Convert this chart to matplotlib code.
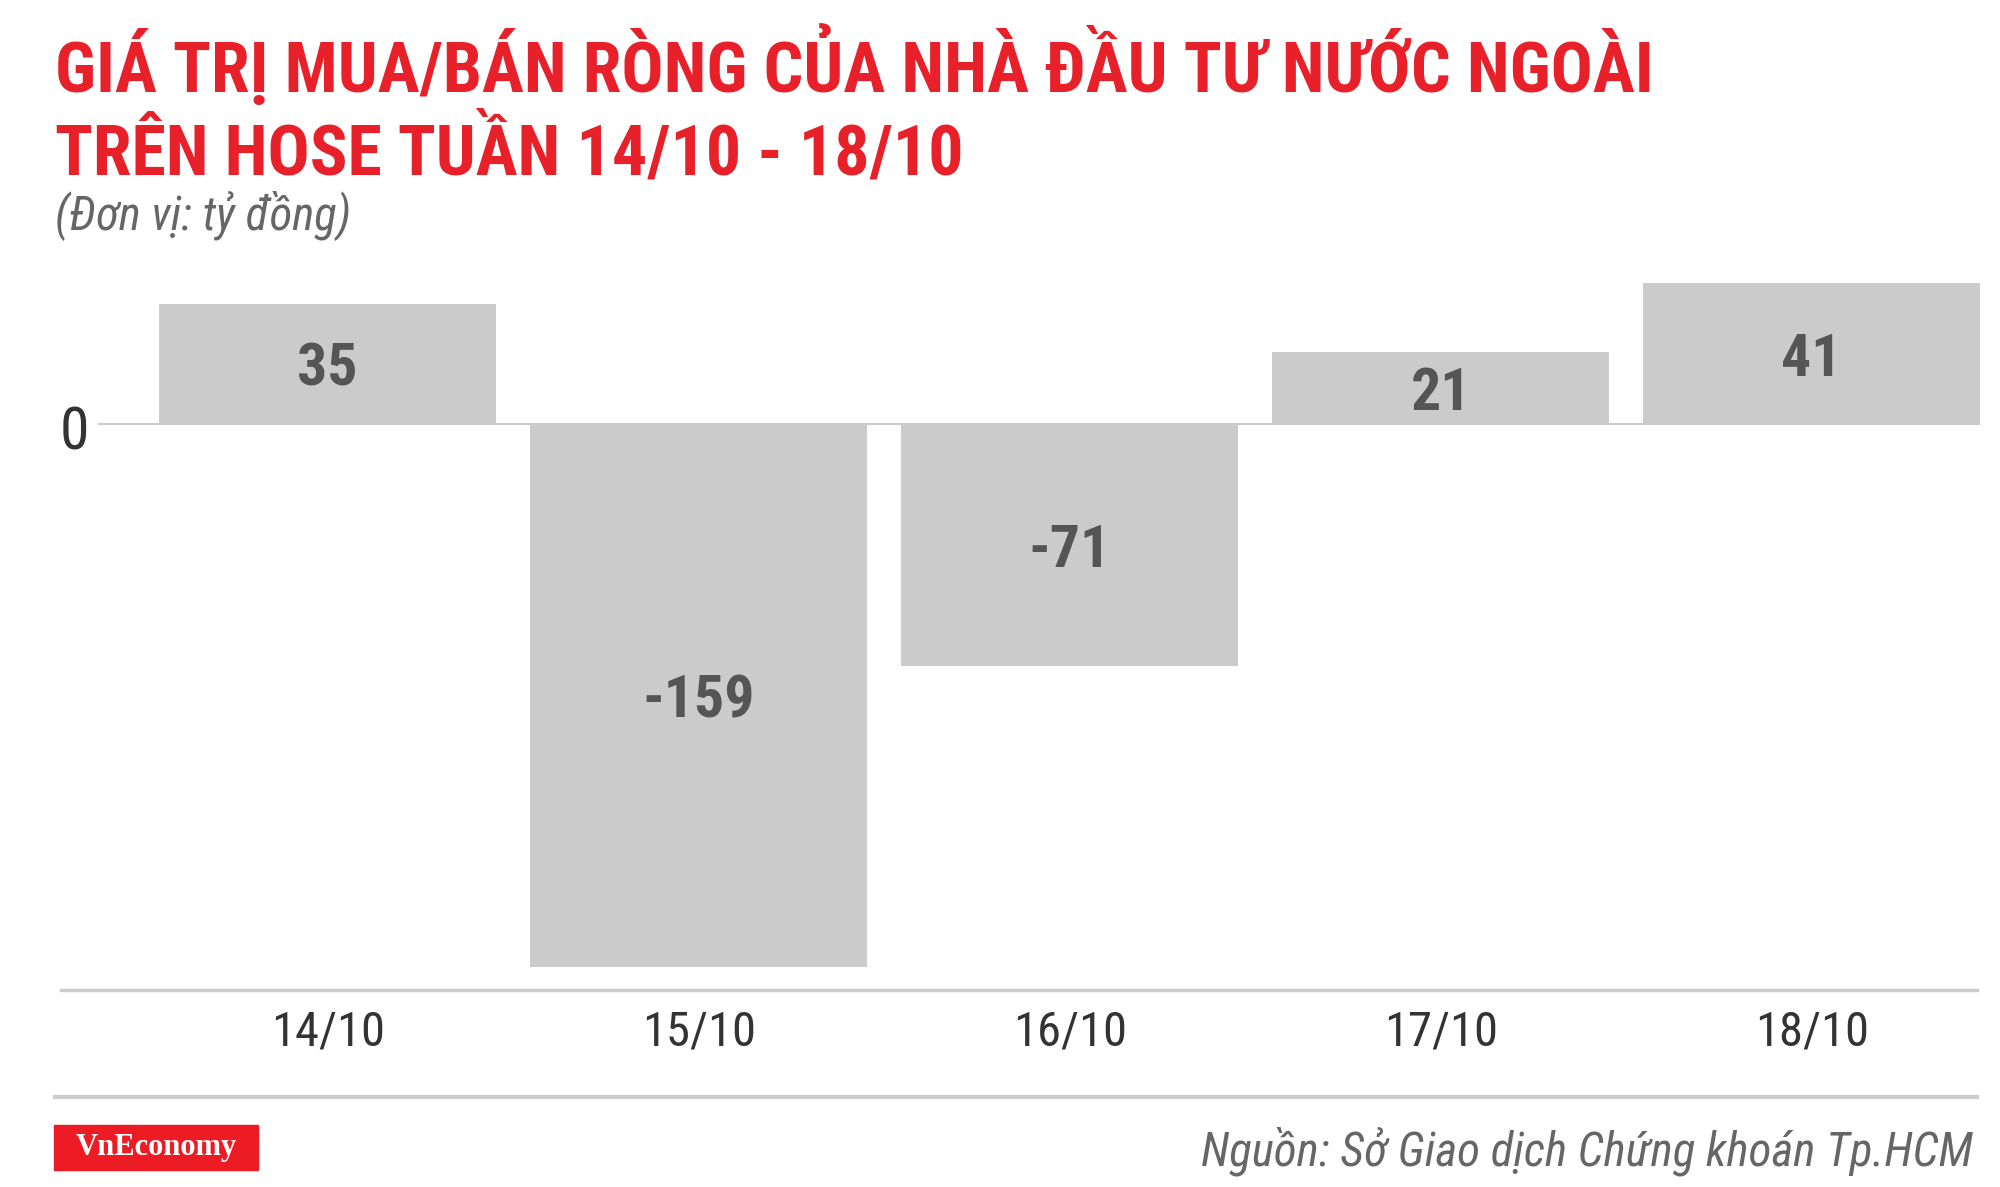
import matplotlib
matplotlib.use("Agg")
import matplotlib.pyplot as plt
from matplotlib import font_manager
from matplotlib.lines import Line2D
from matplotlib.patches import Rectangle

days = ["14/10", "15/10", "16/10", "17/10", "18/10"]
net_values = [35, -159, -71, 21, 41]

title_lines = ["GIÁ TRỊ MUA/BÁN RÒNG CỦA NHÀ ĐẦU TƯ NƯỚC NGOÀI",
               "TRÊN HOSE TUẦN 14/10 - 18/10"]
unit_text = "(Đơn vị: tỷ đồng)"
source_text = "Nguồn: Sở Giao dịch Chứng khoán Tp.HCM"

RED = "#E8202A"
BAR = "#CCCBCC"
LINE = "#CCCCCC"

# pick the narrowest family that is installed
names = {f.name for f in font_manager.fontManager.ttflist}
cond = "Roboto"
for n in ["Roboto Condensed", "Liberation Sans Narrow", "DejaVu Sans Condensed"]:
    if n in names:
        cond = n
        break

W, H = 2000, 1187
fig = plt.figure(figsize=(W / 100, H / 100), dpi=100)
fig.patch.set_facecolor("white")

ax = fig.add_axes([98 / W, 1 - 990 / H, 1882 / W, 740 / H])
x = list(range(len(days)))
ax.bar(x, net_values, width=0.907, color=BAR, zorder=2)
ax.axhline(0, color=LINE, lw=1.5, zorder=1)
ax.set_xlim(-0.619, 4.4536)
ax.set_ylim(-165.7, 50.8)
for s in ax.spines.values():
    s.set_visible(False)
ax.set_yticks([])
ax.set_xticks(x, days)
ax.tick_params(axis="x", length=0, pad=14, labelsize=35, labelcolor="#333333")
for lab in ax.get_xticklabels():
    lab.set_family(cond)

for xi, v in zip(x, net_values):
    ax.text(xi, v / 2, f"{v}", ha="center", va="center_baseline", fontsize=43,
            fontweight="bold", color="#555555", family=cond)

fig.text(89 / W, 1 - 427 / H, "0", ha="right", va="center_baseline", fontsize=43,
         color="#333333", family=cond)

# lines under the chart
fig.add_artist(Line2D([61 / W, 1977 / W], [1 - 990 / H] * 2, color=LINE, lw=2.5))
fig.add_artist(Line2D([55 / W, 1977 / W], [1 - 1097 / H] * 2, color=LINE, lw=3))

# titles
t1 = fig.text(55 / W, 1 - 92 / H, title_lines[0], ha="left", va="baseline",
              fontsize=54, fontweight="bold", color=RED, family=cond)
t2 = fig.text(55 / W, 1 - 175 / H, title_lines[1], ha="left", va="baseline",
              fontsize=54, fontweight="bold", color=RED, family=cond)
t3 = fig.text(55 / W, 1 - 230 / H, unit_text, ha="left", va="baseline",
              fontsize=32, style="italic", color="#666666", family=cond)
t4 = fig.text(1973 / W, 1 - 1166 / H, source_text, ha="right", va="baseline",
              fontsize=32, style="italic", color="#666666", family=cond)

# logo
fig.add_artist(Rectangle((54 / W, 1 - 1170 / H), 204 / W, 45 / H,
                         transform=fig.transFigure, color="#ED1C24"))
fig.text(156 / W, 1 - 1148 / H, "VnEconomy", ha="center", va="center",
         fontsize=22, fontweight="bold", color="white", family="Liberation Serif")

# keep text widths close to the reference
fig.canvas.draw()
r = fig.canvas.get_renderer()
for t, target in [(t1, 1599), (t2, 908), (t3, 296), (t4, 771)]:
    w = t.get_window_extent(r).width
    k = min(target / w, 1.1)
    t.set_fontsize(t.get_fontsize() * k)

fig.savefig("out.png", dpi=100, facecolor="white")
